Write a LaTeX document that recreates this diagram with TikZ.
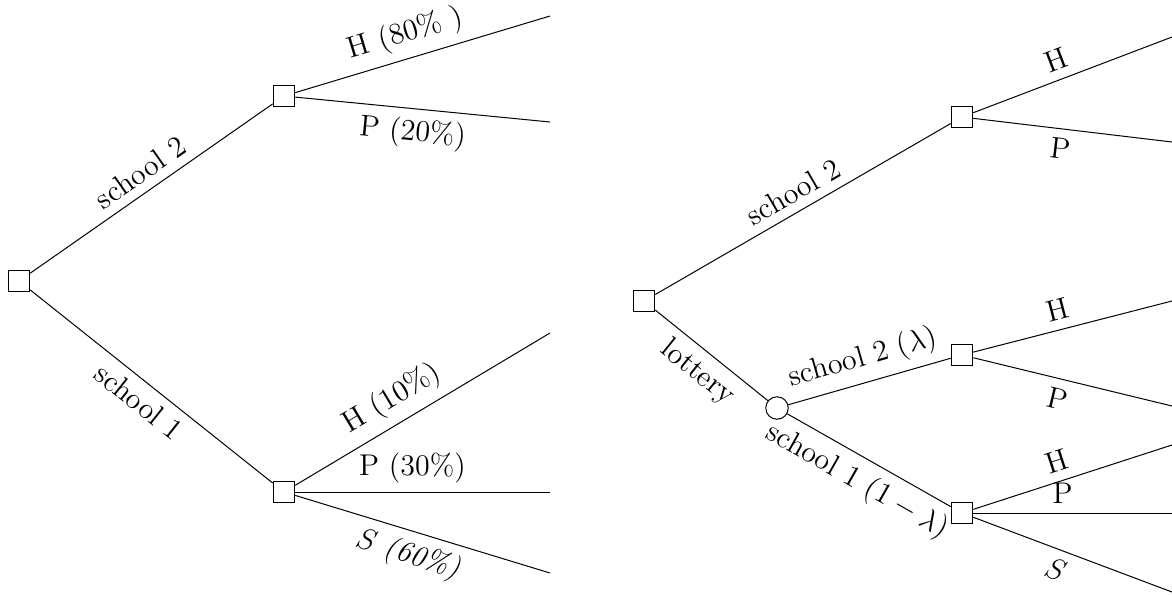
\documentclass[tikz,border=0pt]{standalone}
\usetikzlibrary{positioning}
\begin{document}
\begin{tikzpicture}[x=0.4pt,y=-0.4pt,
  every node/.style={font=\fontsize{12}{14}\selectfont},
  dec/.style={draw,rectangle,minimum size=8.6pt,inner sep=0pt,fill=white},
  chance/.style={draw,circle,minimum size=9pt,inner sep=0pt,fill=white},
  br/.style={line width=0.4pt},
  lab/.style={sloped,inner sep=3.5pt}]
\useasboundingbox (0,0) rectangle (1172,594);
% ---------- left tree ----------
\node[dec] (r1) at (19,281) {};
\node[dec] (a2) at (284,96) {};
\node[dec] (a1) at (284,492) {};
\coordinate (e1) at (550,16);
\coordinate (e2) at (550,122);
\coordinate (e3) at (550,333);
\coordinate (e4) at (550,492);
\coordinate (e5) at (550,573);
\draw[br] (r1) -- node[lab,above] {school 2} (a2);
\draw[br] (r1) -- node[lab,below] {school 1} (a1);
\draw[br] (a2) -- node[lab,above,pos=0.46] {H (80\% )} (e1);
\draw[br] (a2) -- node[lab,below,pos=0.47] {P (20\%)} (e2);
\draw[br] (a1) -- node[lab,above,pos=0.43] {H (10\%)} (e3);
\draw[br] (a1) -- node[lab,above,pos=0.46] {P (30\%)} (e4);
\draw[br] (a1) -- node[lab,below,pos=0.47] {$S$ \textit{(60\%)}} (e5);
% ---------- right tree ----------
\node[dec] (r2) at (644,301) {};
\node[dec] (b2) at (962,117) {};
\node[chance] (c) at (777,408) {};
\node[dec] (b3) at (962,355) {};
\node[dec] (b1) at (962,513) {};
\coordinate (f1) at (1172,37);
\coordinate (f2) at (1172,142);
\coordinate (f3) at (1172,301);
\coordinate (f4) at (1172,406);
\coordinate (f5) at (1172,445);
\coordinate (f6) at (1172,513);
\coordinate (f7) at (1172,592);
\draw[br] (r2) -- node[lab,above] {school 2} (b2);
\draw[br] (r2) -- node[lab,below] {lottery} (c);
\draw[br] (c) -- node[lab,above] {school 2 ($\lambda$)} (b3);
\draw[br] (c) -- node[lab,below] {school 1 ($1-\lambda$)} (b1);
\draw[br] (b2) -- node[lab,above,pos=0.45] {H} (f1);
\draw[br] (b2) -- node[lab,below,pos=0.45] {P} (f2);
\draw[br] (b3) -- node[lab,above,pos=0.45] {H} (f3);
\draw[br] (b3) -- node[lab,below,pos=0.45] {P} (f4);
\draw[br] (b1) -- node[lab,above,pos=0.45] {H} (f5);
\draw[br] (b1) -- node[lab,above,pos=0.45] {P} (f6);
\draw[br] (b1) -- node[lab,below,pos=0.45] {$S$} (f7);
\end{tikzpicture}
\end{document}
